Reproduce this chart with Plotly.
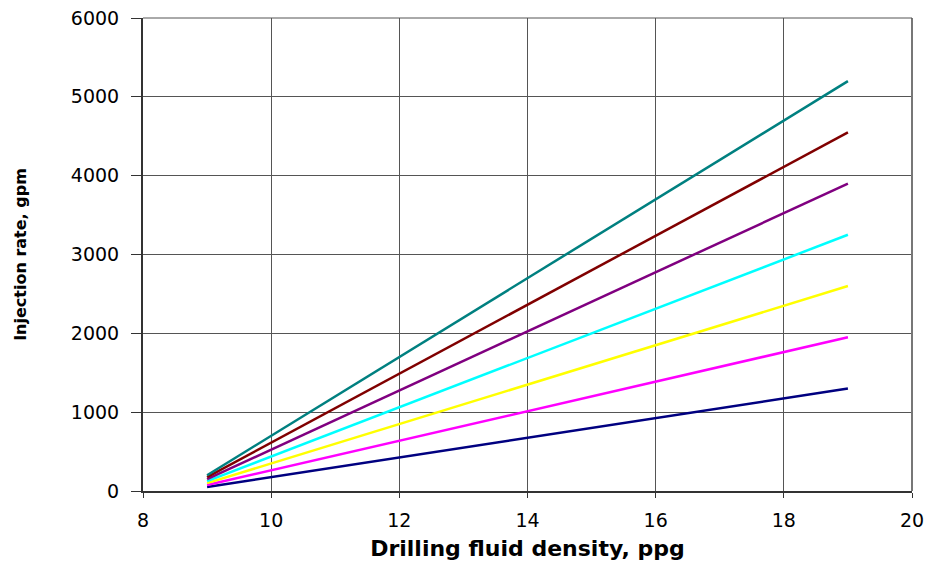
import plotly.graph_objects as go

density = [9, 19]
series_names = ["s1", "s2", "s3", "s4", "s5", "s6", "s7"]
navy = [50, 1300]
magenta = [75, 1950]
yellow = [100, 2600]
cyan = [125, 3250]
purple = [150, 3900]
maroon = [175, 4550]
teal = [200, 5200]

series = [
    (navy, "#000080"),
    (magenta, "#FF00FF"),
    (yellow, "#FFFF00"),
    (cyan, "#00FFFF"),
    (purple, "#800080"),
    (maroon, "#800000"),
    (teal, "#008080"),
]

fig = go.Figure()
for (vals, col), name in zip(series, series_names):
    fig.add_trace(go.Scatter(x=density, y=vals, mode="lines", name=name,
                             line=dict(color=col, width=2.5)))

FONT = "DejaVu Sans, Liberation Sans, Arial, sans-serif"
fig.update_layout(
    width=929, height=565,
    margin=dict(l=143, r=17, t=18, b=74, autoexpand=False),
    paper_bgcolor="white", plot_bgcolor="white",
    showlegend=False,
    font=dict(family=FONT, color="#000000"),
)
fig.update_xaxes(
    range=[8, 20], dtick=2, tick0=8, automargin=False,
    showgrid=True, gridcolor="#555555", gridwidth=1,
    showline=True, linecolor="#333333", linewidth=2,
    ticks="outside", ticklen=5, tickcolor="#333333",
    ticklabelstandoff=6,
    tickfont=dict(size=19, family=FONT),
    title=dict(text="<b>Drilling fluid density, ppg</b>", font=dict(size=22, family=FONT), standoff=11),
    zeroline=False,
)
fig.update_yaxes(
    range=[0, 6000], dtick=1000, automargin=False,
    showgrid=True, gridcolor="#555555", gridwidth=1,
    showline=True, linecolor="#333333", linewidth=2,
    ticks="outside", ticklen=10, tickcolor="#333333",
    ticklabelstandoff=8,
    tickfont=dict(size=19, family=FONT),
    title=dict(text="<b>Injection rate, gpm</b>", font=dict(size=16, family=FONT), standoff=40),
    zeroline=False,
)
fig.add_shape(type="line", xref="paper", yref="paper", x0=1, x1=1, y0=0, y1=1,
              line=dict(color="#777777", width=2))
fig.add_shape(type="line", xref="paper", yref="paper", x0=0, x1=1, y0=1, y1=1,
              line=dict(color="#555555", width=1))

fig.write_html("out.html")
